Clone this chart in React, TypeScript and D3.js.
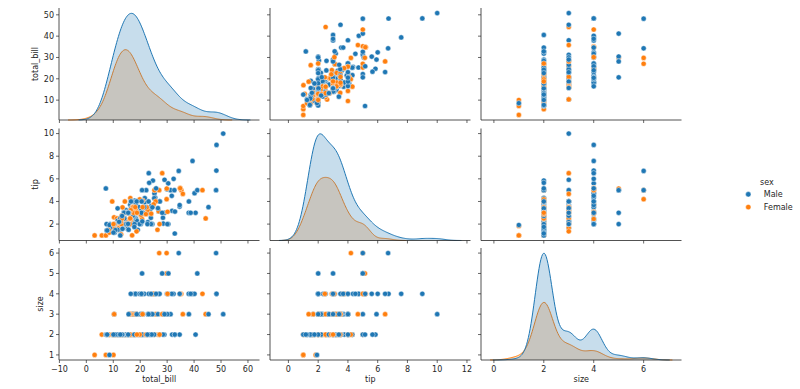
import React from "react";
import * as d3 from "d3";

// tips dataset
const totalBill = [
  16.99,10.34,21.01,23.68,24.59,25.29,8.77,26.88,15.04,14.78,
  10.27,35.26,15.42,18.43,14.83,21.58,10.33,16.29,16.97,20.65,
  17.92,20.29,15.77,39.42,19.82,17.81,13.37,12.69,21.7,19.65,
  9.55,18.35,15.06,20.69,17.78,24.06,16.31,16.93,18.69,31.27,
  16.04,17.46,13.94,9.68,30.4,18.29,22.23,32.4,28.55,18.04,
  12.54,10.29,34.81,9.94,25.56,19.49,38.01,26.41,11.24,48.27,
  20.29,13.81,11.02,18.29,17.59,20.08,16.45,3.07,20.23,15.01,
  12.02,17.07,26.86,25.28,14.73,10.51,17.92,27.2,22.76,17.29,
  19.44,16.66,10.07,32.68,15.98,34.83,13.03,18.28,24.71,21.16,
  28.97,22.49,5.75,16.32,22.75,40.17,27.28,12.03,21.01,12.46,
  11.35,15.38,44.3,22.42,20.92,15.36,20.49,25.21,18.24,14.31,
  14.0,7.25,38.07,23.95,25.71,17.31,29.93,10.65,12.43,24.08,
  11.69,13.42,14.26,15.95,12.48,29.8,8.52,14.52,11.38,22.82,
  19.08,20.27,11.17,12.26,18.26,8.51,10.33,14.15,16.0,13.16,
  17.47,34.3,41.19,27.05,16.43,8.35,18.64,11.87,9.78,7.51,
  14.07,13.13,17.26,24.55,19.77,29.85,48.17,25.0,13.39,16.49,
  21.5,12.66,16.21,13.81,17.51,24.52,20.76,31.71,10.59,10.63,
  50.81,15.81,7.25,31.85,16.82,32.9,17.89,14.48,9.6,34.63,
  34.65,23.33,45.35,23.17,40.55,20.69,20.9,30.46,18.15,23.1,
  15.69,19.81,28.44,15.48,16.58,7.56,10.34,43.11,13.0,13.51,
  18.71,12.74,13.0,16.4,20.53,16.47,26.59,38.73,24.27,12.76,
  30.06,25.89,48.33,13.27,28.17,12.9,28.15,11.59,7.74,30.14,
  12.16,13.42,8.58,15.98,13.42,16.27,10.09,20.45,13.28,22.12,
  24.01,15.69,11.61,10.77,15.53,10.07,12.6,32.83,35.83,29.03,
  27.18,22.67,17.82,18.78,
];

const tip = [
  1.01,1.66,3.5,3.31,3.61,4.71,2.0,3.12,1.96,3.23,
  1.71,5.0,1.57,3.0,3.02,3.92,1.67,3.71,3.5,3.35,
  4.08,2.75,2.23,7.58,3.18,2.34,2.0,2.0,4.3,3.0,
  1.45,2.5,3.0,2.45,3.27,3.6,2.0,3.07,2.31,5.0,
  2.24,2.54,3.06,1.32,5.6,3.0,5.0,6.0,2.05,3.0,
  2.5,2.6,5.2,1.56,4.34,3.51,3.0,1.5,1.76,6.73,
  3.21,2.0,1.98,3.76,2.64,3.15,2.47,1.0,2.01,2.09,
  1.97,3.0,3.14,5.0,2.2,1.25,3.08,4.0,3.0,2.71,
  3.0,3.4,1.83,5.0,2.03,5.17,2.0,4.0,5.85,3.0,
  3.0,3.5,1.0,4.3,3.25,4.73,4.0,1.5,3.0,1.5,
  2.5,3.0,2.5,3.48,4.08,1.64,4.06,4.29,3.76,4.0,
  3.0,1.0,4.0,2.55,4.0,3.5,5.07,1.5,1.8,2.92,
  2.31,1.68,2.5,2.0,2.52,4.2,1.48,2.0,2.0,2.18,
  1.5,2.83,1.5,2.0,3.25,1.25,2.0,2.0,2.0,2.75,
  3.5,6.7,5.0,5.0,2.3,1.5,1.36,1.63,1.73,2.0,
  2.5,2.0,2.74,2.0,2.0,5.14,5.0,3.75,2.61,2.0,
  3.5,2.5,2.0,2.0,3.0,3.48,2.24,4.5,1.61,2.0,
  10.0,3.16,5.15,3.18,4.0,3.11,2.0,2.0,4.0,3.55,
  3.68,5.65,3.5,6.5,3.0,5.0,3.5,2.0,3.5,4.0,
  1.5,4.19,2.56,2.02,4.0,1.44,2.0,5.0,2.0,2.0,
  4.0,2.01,2.0,2.5,4.0,3.23,3.41,3.0,2.03,2.23,
  2.0,5.16,9.0,2.5,6.5,1.1,3.0,1.5,1.44,3.09,
  2.2,3.48,1.92,3.0,1.58,2.5,2.0,3.0,2.72,2.88,
  2.0,3.0,3.39,1.47,3.0,1.25,1.0,1.17,4.67,5.92,
  2.0,2.0,1.75,3.0,
];

const size = [
  2,3,3,2,4,4,2,4,2,2,
  2,4,2,4,2,2,3,3,3,3,
  2,2,2,4,2,4,2,2,2,2,
  2,4,2,4,2,3,3,3,3,3,
  3,2,2,2,4,2,2,4,3,2,
  2,2,4,2,4,2,4,2,2,4,
  2,2,2,4,3,3,2,1,2,2,
  2,3,2,2,2,2,2,4,2,2,
  2,2,1,2,2,4,2,2,2,2,
  2,2,2,2,2,4,2,2,2,2,
  2,2,3,2,2,2,2,2,2,2,
  2,1,3,2,3,2,4,2,2,4,
  2,2,2,2,2,6,2,2,2,3,
  2,2,2,2,2,2,2,2,2,2,
  2,6,5,6,2,2,3,2,2,2,
  2,2,3,4,4,5,6,4,2,4,
  4,2,3,2,2,3,2,4,2,2,
  3,2,2,2,2,2,2,2,2,2,
  4,2,3,4,2,5,3,5,3,3,
  2,2,2,2,2,2,2,4,2,2,
  3,2,2,2,4,3,3,4,2,2,
  3,4,4,2,3,2,5,2,2,4,
  2,2,1,3,2,2,2,4,2,2,
  4,3,2,2,2,2,2,2,3,3,
  2,2,2,2,
];

const sexCodes = (
  "F M M M F M M M M M " + "M F M M F M F M F M " + "M F F M M M M M M F " + "M M F F M M M F M M " +
  "M M M M M M M M M M " + "M F F M M M M F M M " + "M M M M M M F F M M " + "M F F F F M M M M M " +
  "M M F M M F M M M M " + "M M F F F M M M M M " + "F F F F F M M M M F " + "M F M M F F M F F F " +
  "M F M M F F M F F M " + "M F F F F F F F M F " + "F M M F F F F F M M " + "M M M M M F M F F M " +
  "M M F M F M M M F F " + "M M M M M M M M F M " + "M M M M M M F M F M " + "M F M M M M M F F M " +
  "M F F F M F M M M F " + "M M M F F F M M M F " + "M F M F M F F M M F " + "M M M M M M M M F M " +
  "F M M F"
).split(" ");

const hueLevels = ["Male", "Female"];
const hueCodes = ["M", "F"];
const hueColors = ["#1f77b4", "#ff7f0e"];
const varNames = ["total_bill", "tip", "size"];
const variables = [totalBill, tip, size];
const xTickValues = [[-10, 0, 10, 20, 30, 40, 50, 60], [0, 2, 4, 6, 8, 10, 12], [0, 2, 4, 6]];
const yTickValues = [[10, 20, 30, 40, 50], [2, 4, 6, 8, 10], [1, 2, 3, 4, 5, 6]];

// layout
const W = 800, H = 389;
const colLeft = [59, 270, 481];
const rowTop = [8, 128.5, 248];
const cellW = 200.5, cellH = 112;
const FONT = "DejaVu Sans, sans-serif";
const INK = "#262626";

function kde(values: number[], frac: number) {
  const n = values.length;
  const sd = d3.deviation(values) as number;
  const bw = sd * Math.pow(n, -0.2);
  const lo = (d3.min(values) as number) - 3 * bw;
  const hi = (d3.max(values) as number) + 3 * bw;
  const norm = 1 / (n * bw * Math.sqrt(2 * Math.PI));
  const pts: [number, number][] = d3.range(200).map((i) => {
    const x = lo + ((hi - lo) * i) / 199;
    const s = d3.sum(values, (v) => Math.exp(-0.5 * ((x - v) / bw) ** 2));
    return [x, frac * norm * s];
  });
  return pts;
}

const N = totalBill.length;
const kdes = variables.map((vals) =>
  hueCodes.map((code) => {
    const sub = vals.filter((_, i) => sexCodes[i] === code);
    return kde(sub, sub.length / N);
  })
);

const pad = (lo: number, hi: number): [number, number] => {
  const m = (hi - lo) * 0.05;
  return [lo - m, hi + m];
};

const xScales = variables.map((vals, k) => {
  const all = kdes[k].flat().map((p) => p[0]).concat(vals);
  const [lo, hi] = d3.extent(all) as [number, number];
  return d3.scaleLinear().domain(pad(lo, hi)).range([0, cellW]);
});
const yScales = variables.map((vals) => {
  const [lo, hi] = d3.extent(vals) as [number, number];
  return d3.scaleLinear().domain(pad(lo, hi)).range([cellH, 0]);
});
const densScales = kdes.map((groups) => {
  const mx = d3.max(groups.flat(), (p) => p[1]) as number;
  return d3.scaleLinear().domain([0, mx * 1.05]).range([cellH, 0]);
});

const fmt = (v: number) => (v < 0 ? "\u2212" + Math.abs(v) : String(v));

function Cell({ r, c }: { r: number; c: number }) {
  const xs = xScales[c];
  const ys = yScales[r];
  const content: React.ReactNode[] = [];
  if (r === c) {
    const ds = densScales[c];
    const area = d3.area<[number, number]>().x((p) => xs(p[0])).y0(ds(0)).y1((p) => ds(p[1]));
    const line = d3.line<[number, number]>().x((p) => xs(p[0])).y((p) => ds(p[1]));
    [1, 0].forEach((h) => {
      content.push(
        <path key={"a" + h} d={area(kdes[c][h]) || ""} fill={hueColors[h]} fillOpacity={0.25} stroke="none" />
      );
      content.push(
        <path key={"l" + h} d={line(kdes[c][h]) || ""} fill="none" stroke={hueColors[h]} strokeWidth={1} />
      );
    });
  } else {
    const xv = variables[c], yv = variables[r];
    xv.forEach((v, i) => {
      const h = sexCodes[i] === "M" ? 0 : 1;
      content.push(
        <circle key={i} cx={xs(v)} cy={ys(yv[i])} r={2.6} fill={hueColors[h]} stroke="#fff" strokeWidth={0.45} />
      );
    });
  }
  return (
    <g transform={`translate(${colLeft[c]},${rowTop[r]})`}>
      {content}
      {/* left spine + ticks */}
      <line x1={0} x2={0} y1={0} y2={cellH} stroke={INK} strokeWidth={0.8} />
      {yTickValues[r].map((t) => (
        <g key={"yt" + t} transform={`translate(0,${ys(t)})`}>
          <line x1={-3} x2={0} stroke={INK} strokeWidth={0.7} />
          {c === 0 && (
            <text x={-5} dy="0.35em" textAnchor="end" fontSize={8} fontFamily={FONT} fill={INK}>
              {fmt(t)}
            </text>
          )}
        </g>
      ))}
      {/* bottom spine + ticks */}
      <line x1={0} x2={cellW} y1={cellH} y2={cellH} stroke={INK} strokeWidth={0.8} />
      {xTickValues[c].map((t) => (
        <g key={"xt" + t} transform={`translate(${xs(t)},${cellH})`}>
          <line y1={0} y2={3} stroke={INK} strokeWidth={0.7} />
          {r === 2 && (
            <text y={11.5} textAnchor="middle" fontSize={8} fontFamily={FONT} fill={INK}>
              {fmt(t)}
            </text>
          )}
        </g>
      ))}
    </g>
  );
}

export default function App() {
  const cells: React.ReactNode[] = [];
  for (let r = 0; r < 3; r++) for (let c = 0; c < 3; c++) cells.push(<Cell key={`${r}-${c}`} r={r} c={c} />);
  const ylabX = [35.5, 35.5, 40];
  return (
    <svg width={W} height={H} viewBox={`0 0 ${W} ${H}`} style={{ display: "block", position: "absolute", left: 0, top: 0 }}>
      <rect width={W} height={H} fill="#fff" />
      {cells}
      {varNames.map((name, r) => (
        <text
          key={"yl" + name}
          transform={`translate(${ylabX[r]},${rowTop[r] + cellH / 2}) rotate(-90)`}
          dy="0.35em"
          textAnchor="middle"
          fontSize={8}
          fontFamily={FONT}
          fill={INK}
        >
          {name}
        </text>
      ))}
      {varNames.map((name, c) => (
        <text
          key={"xl" + name}
          x={colLeft[c] + cellW / 2}
          y={382}
          textAnchor="middle"
          fontSize={8}
          fontFamily={FONT}
          fill={INK}
        >
          {name}
        </text>
      ))}
      <g>
        <text x={760} y={182} dy="0.35em" fontSize={8} fontFamily={FONT} fill={INK}>
          sex
        </text>
        {hueLevels.map((lev, h) => (
          <g key={lev} transform={`translate(748.3,${194.3 + h * 12.8})`}>
            <circle r={2.7} fill={hueColors[h]} stroke="#fff" strokeWidth={0.45} />
            <text x={15.5} dy="0.35em" fontSize={8} fontFamily={FONT} fill={INK}>
              {lev}
            </text>
          </g>
        ))}
      </g>
    </svg>
  );
}
